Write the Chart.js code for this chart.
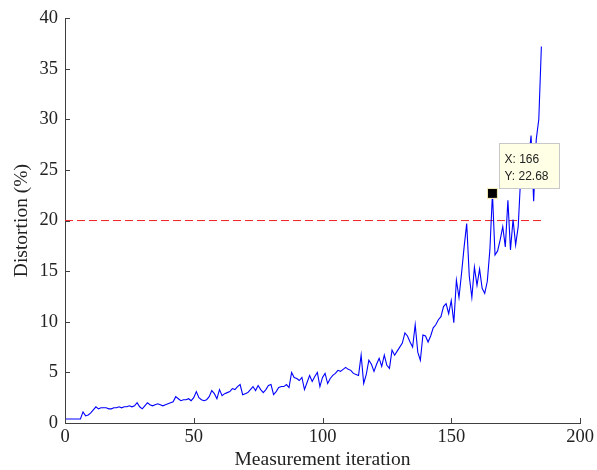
<!DOCTYPE html>
<html><head><meta charset="utf-8">
<script src="https://cdn.jsdelivr.net/npm/chart.js@4/dist/chart.umd.min.js"></script>
<style>html,body{margin:0;padding:0;background:#fff}#wrap{width:597px;height:470px}</style>
</head><body><div id="wrap"><canvas id="c" width="597" height="470"></canvas></div>
<script>
// Distortion (%) per measurement iteration, index = iteration 0..185
const distortion = [
  0.4,0.4,0.4,0.4,0.4,0.4,0.4,
  1.1,0.7,0.8,
  1.0,1.3,1.6,1.4,1.5,1.5,1.5,1.4,1.4,1.5,
  1.5,1.6,1.5,1.6,1.6,1.7,1.6,1.7,2.0,1.6,
  1.4,1.7,2.0,1.8,1.7,1.8,1.9,1.8,1.7,1.8,
  1.9,2.0,2.1,2.6,2.4,2.2,2.3,2.3,2.4,2.2,
  2.5,3.1,2.5,2.3,2.2,2.3,2.6,3.2,2.9,2.4,
  3.3,2.7,2.9,3.0,3.1,3.4,3.3,3.6,3.8,2.8,
  2.9,3.0,3.3,3.6,3.2,3.7,3.3,3.0,3.3,3.7,
  3.8,2.8,3.1,3.5,3.6,3.6,3.8,3.5,5.0,4.5,
  4.4,4.2,4.5,3.3,4.0,4.7,4.1,4.6,5.0,3.6,
  4.5,4.9,3.9,4.4,4.7,4.9,5.2,5.1,5.3,5.5,
  5.3,5.2,4.9,4.8,4.7,6.7,3.9,4.8,6.2,5.8,
  5.1,5.8,6.4,5.6,6.7,5.7,5.4,7.2,6.7,7.1,
  7.5,7.9,8.9,8.6,8.0,7.5,9.7,7.0,6.2,8.7,
  8.6,8.0,8.6,9.4,9.7,10.2,10.5,11.5,11.8,10.8,
  12.1,9.9,14.1,12.4,14.8,17.4,19.7,14.5,12.4,15.4,
  13.6,15.2,13.3,12.8,14.0,17.1,22.68,16.6,17.0,18.1,
  19.4,17.4,22.0,17.1,20.1,17.6,19.4,24.5,25.5,24.0,
  26.0,28.4,21.9,28.0,30.0,37.2
];
const iterations = distortion.map((_, i) => i);
const thresholdLevel = 20;
const thresholdRange = [0, 185];
const tipX = 166;
const tipY = 22.68;
const xTicks = [0, 50, 100, 150, 200];
const yTicks = [0, 5, 10, 15, 20, 25, 30, 35, 40];

const serif = "'Liberation Serif', 'DejaVu Serif', serif";
const axisColor = '#404040';

const inwardTicks = {
  id: 'inwardTicks',
  afterDraw(chart) {
    const {ctx, scales: {x, y}} = chart;
    ctx.save();
    ctx.strokeStyle = axisColor;
    ctx.lineWidth = 1;
    ctx.beginPath();
    xTicks.forEach(v => {
      const px = Math.round(x.getPixelForValue(v)) + 0.5;
      ctx.moveTo(px, y.bottom);
      ctx.lineTo(px, y.bottom - 5);
    });
    yTicks.forEach(v => {
      const py = Math.round(y.getPixelForValue(v)) + 0.5;
      ctx.moveTo(x.left, py);
      ctx.lineTo(x.left + 5, py);
    });
    ctx.stroke();
    ctx.restore();
  }
};

const dataTip = {
  id: 'dataTip',
  afterDatasetsDraw(chart) {
    const {ctx, scales: {x, y}} = chart;
    const px = x.getPixelForValue(tipX);
    const py = y.getPixelForValue(tipY);
    ctx.save();
    ctx.fillStyle = '#000';
    ctx.strokeStyle = '#f0e8b0';
    ctx.lineWidth = 1;
    ctx.fillRect(px - 4.5, py - 4.5, 9, 9);
    ctx.strokeRect(px - 5, py - 5, 10, 10);
    const bx = Math.round(px + 7) + 0.5, by = Math.round(py - 50) + 0.5, bw = 60, bh = 45;
    ctx.fillStyle = '#ffffe6';
    ctx.fillRect(bx, by, bw, bh);
    ctx.strokeStyle = '#c8c8c8';
    ctx.strokeRect(bx, by, bw, bh);
    ctx.fillStyle = '#222';
    ctx.font = "12px 'Liberation Sans', Arial, sans-serif";
    ctx.textBaseline = 'alphabetic';
    ctx.textAlign = 'left';
    ctx.fillText('X: ' + tipX, bx + 5, by + 19);
    ctx.fillText('Y: ' + tipY.toFixed(2), bx + 5, by + 36);
    ctx.restore();
  }
};

new Chart(document.getElementById('c'), {
  type: 'line',
  data: {
    datasets: [
      {
        data: iterations.map((it, i) => ({x: it, y: distortion[i]})),
        borderColor: '#0000ff',
        borderWidth: 1.1,
        pointRadius: 0,
        tension: 0,
        fill: false
      },
      {
        data: thresholdRange.map(v => ({x: v, y: thresholdLevel})),
        borderColor: '#f02020',
        borderWidth: 1,
        borderDash: [8, 4],
        pointRadius: 0,
        fill: false
      }
    ]
  },
  options: {
    responsive: false,
    animation: false,
    devicePixelRatio: 1,
    layout: {padding: {top: 18, right: 17, left: 0, bottom: 0}},
    plugins: {legend: {display: false}, tooltip: {enabled: false}},
    scales: {
      x: {
        type: 'linear',
        min: 0, max: 200,
        afterBuildTicks: s => { s.ticks = xTicks.map(v => ({value: v})); },
        afterFit: s => { s.height = 47; },
        grid: {display: false, drawTicks: false},
        border: {display: true, color: axisColor, width: 1},
        ticks: {color: '#222', font: {family: serif, size: 18.5}, padding: 3, maxRotation: 0},
        title: {display: true, text: 'Measurement iteration', color: '#222',
                font: {family: serif, size: 19.5}, padding: {top: 0, bottom: -2}}
      },
      y: {
        type: 'linear',
        min: 0, max: 40,
        afterBuildTicks: s => { s.ticks = yTicks.map(v => ({value: v})); },
        afterFit: s => { s.width = 65; },
        grid: {display: false, drawTicks: false},
        border: {display: true, color: axisColor, width: 1},
        ticks: {color: '#222', font: {family: serif, size: 18.5}, padding: 7},
        title: {display: true, text: 'Distortion (%)', color: '#222',
                font: {family: serif, size: 19.5}, padding: {top: 10, bottom: 0}}
      }
    }
  },
  plugins: [inwardTicks, dataTip]
});
</script>
</body></html>
